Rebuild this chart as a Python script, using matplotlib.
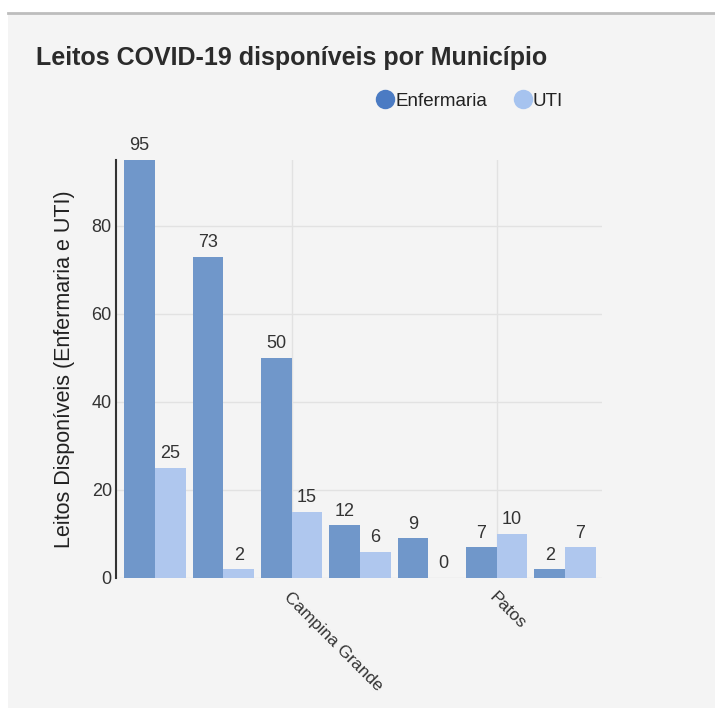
import matplotlib
matplotlib.use("Agg")
import matplotlib.pyplot as plt
from matplotlib.patches import Rectangle
from matplotlib.lines import Line2D
import numpy as np

plt.rcParams['font.family'] = ['Liberation Sans', 'DejaVu Sans']

# Municipalities (only some names are shown on the axis)
municipios = ["", "", "Campina Grande", "", "", "Patos", ""]
enfermaria = [95, 73, 50, 12, 9, 7, 2]
uti = [25, 2, 15, 6, 0, 10, 7]
yticks = [0, 20, 40, 60, 80]

series_names = ["Enfermaria", "UTI"]
bar_colors = ["#7097ca", "#afc7ee"]
legend_colors = ["#4b7bc3", "#a6c3ef"]

W, H = 715, 708
fig = plt.figure(figsize=(W / 100, H / 100), dpi=100)
fig.patch.set_facecolor("white")

# Card panel and top border
fig.add_artist(Rectangle((8 / W, 0), 1 - 8 / W, 1 - 13 / H, transform=fig.transFigure,
                         facecolor="#f4f4f4", edgecolor="none", zorder=0))
fig.add_artist(Line2D([8 / W, 1], [1 - 13 / H, 1 - 13 / H], transform=fig.transFigure,
                      color="#bdbdbd", lw=2, zorder=1))

left, right, top, bottom = 116, 602, 160, 578
ax = fig.add_axes([left / W, 1 - bottom / H, (right - left) / W, (bottom - top) / H])
ax.set_facecolor("none")

x = np.arange(len(enfermaria))
bw = 0.45
ax.bar(x - bw / 2, enfermaria, width=bw, color=bar_colors[0], zorder=2)
ax.bar(x + bw / 2, uti, width=bw, color=bar_colors[1], zorder=2)

for xi, v in zip(x - bw / 2, enfermaria):
    ax.annotate(str(v), (xi, v), xytext=(0, 4), textcoords="offset points",
                ha="center", va="bottom", fontsize=13, color="#333333")
for xi, v in zip(x + bw / 2, uti):
    ax.annotate(str(v), (xi, v), xytext=(0, 4), textcoords="offset points",
                ha="center", va="bottom", fontsize=13, color="#333333")

ax.set_xlim(-0.57, 6.54)
ax.set_ylim(0, 95)
ax.set_yticks(yticks)
ax.tick_params(axis="y", length=0, pad=3, labelsize=13, labelcolor="#333333")

shown = [i for i, m in enumerate(municipios) if m]
ax.set_xticks(shown)
ax.set_xticklabels([municipios[i] for i in shown], rotation=-45, ha="left",
                   va="top", rotation_mode="anchor", fontsize=12.5, color="#333333")
ax.tick_params(axis="x", length=0, pad=8)

ax.grid(True, color="#e2e2e2", lw=1, zorder=0)
for s in ["top", "right", "bottom"]:
    ax.spines[s].set_visible(False)
ax.spines["left"].set_color("#333333")
ax.spines["left"].set_linewidth(1.5)

ax.set_ylabel("Leitos Disponíveis (Enfermaria e UTI)", fontsize=15.5, color="#222222", labelpad=12)

fig.text(36 / W, 1 - 58 / H, "Leitos COVID-19 disponíveis por Município", fontsize=18,
         fontweight="bold", color="#2b2b2b", ha="left", va="center")

handles = [Line2D([], [], marker="o", ls="none", markersize=14, color=c, markeredgewidth=0)
           for c in legend_colors]
fig.legend(handles, series_names, loc="center left", bbox_to_anchor=(376 / W, 1 - 101 / H),
           ncol=2, frameon=False, fontsize=13.5, handletextpad=0.05, columnspacing=1.37,
           handlelength=1.0, labelcolor="#222222", borderpad=0, borderaxespad=0)

fig.savefig("out.png", dpi=100, facecolor=fig.get_facecolor())
